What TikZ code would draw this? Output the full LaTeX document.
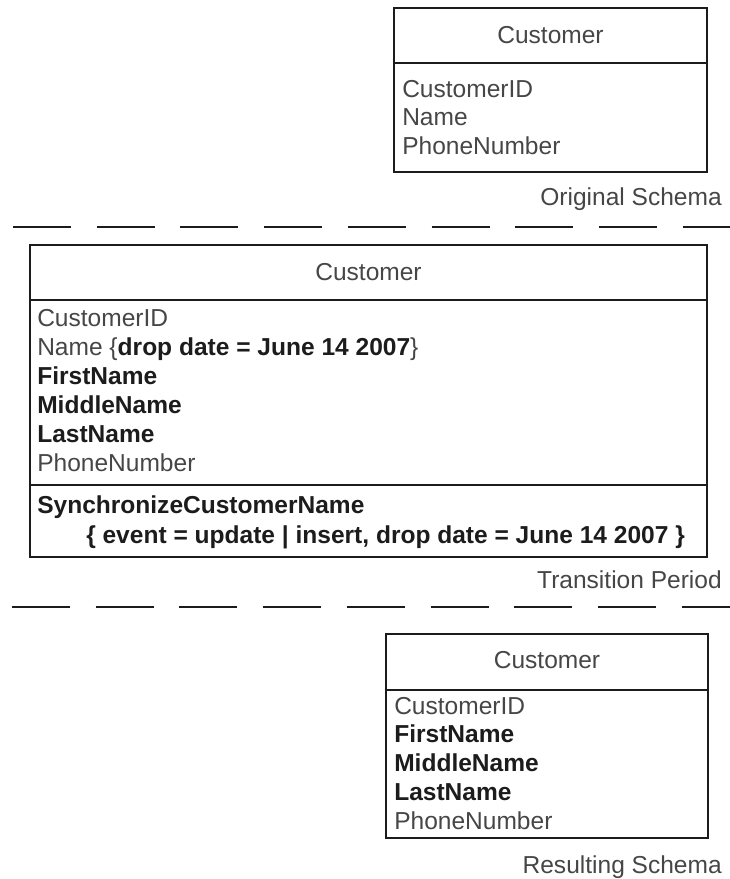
\documentclass[tikz,border=0pt]{standalone}
\usepackage{fontspec}
\setmainfont{Liberation Sans}
\usetikzlibrary{fit}
\definecolor{inkgray}{RGB}{70,70,70}
\definecolor{inkdark}{RGB}{28,28,28}
\tikzset{
  classframe/.style={draw=inkdark,line width=2.2pt,inner sep=0pt},
  divider/.style={draw=inkdark,line width=2.2pt},
  member/.style={anchor=base west,inner sep=0pt,text=inkgray},
  classname/.style={anchor=base,inner sep=0pt,text=inkgray},
  caption/.style={anchor=base east,inner sep=0pt,text=inkgray},
  boundary/.style={draw=inkdark,line width=2.2pt,dash pattern=on 43.5pt off 19.3pt}
}
\newcommand{\newattr}[1]{\textcolor{inkdark}{\bfseries #1}}

\begin{document}
\begin{tikzpicture}[x=.75pt,y=-.75pt,font=\fontsize{18.4pt}{22pt}\selectfont]
  \useasboundingbox (0,0) rectangle (730,879);

  % original schema
  \node[classframe,fit={(394,8) (707,172)}] (original) {};
  \draw[divider] (original.west |- 0,63) -- (original.east |- 0,63);
  \node[classname] (oname) at (original.center |- 0,43) {Customer};
  \foreach \attr [count=\i] in {CustomerID,Name,PhoneNumber}
    \node[member] (o\i) at (402,{97+28.5*(\i-1)}) {\attr};
  \node[caption] (ocap) at (722,205) {Original Schema};

  \coordinate (cut1a) at (13,227);
  \coordinate (cut1b) at (730,227);
  \draw[boundary] (cut1a) -- (cut1b);

  % transition period
  \node[classframe,fit={(30,245) (707,557)}] (transition) {};
  \draw[divider] (transition.west |- 0,300) -- (transition.east |- 0,300);
  \draw[divider] (transition.west |- 0,485) -- (transition.east |- 0,485);
  \node[classname] (tname) at (transition.center |- 0,280) {Customer};
  \foreach \attr [count=\i] in {CustomerID,
      {Name \{\newattr{drop date = June 14 2007}\}},
      \newattr{FirstName},\newattr{MiddleName},\newattr{LastName},PhoneNumber}
    \node[member] (t\i) at (37,{326+29*(\i-1)}) {\attr};
  \node[member] (tm1) at (37,513) {\newattr{SynchronizeCustomerName}};
  \node[member] (tm2) at (86,543)
    {\newattr{\{ event = update | insert, drop date = June 14 2007 \}}};
  \node[caption] (tcap) at (722,588) {Transition Period};

  \coordinate (cut2a) at (12,607);
  \coordinate (cut2b) at (730,607);
  \draw[boundary] (cut2a) -- (cut2b);

  % resulting schema
  \node[classframe,fit={(386,634) (708,838)}] (result) {};
  \draw[divider] (result.west |- 0,690) -- (result.east |- 0,690);
  \node[classname] (rname) at (result.center |- 0,668) {Customer};
  \foreach \attr [count=\i] in {CustomerID,\newattr{FirstName},
      \newattr{MiddleName},\newattr{LastName},PhoneNumber}
    \node[member] (r\i) at (394,{714+28.75*(\i-1)}) {\attr};
  \node[caption] (rcap) at (722,873) {Resulting Schema};
\end{tikzpicture}
\end{document}
